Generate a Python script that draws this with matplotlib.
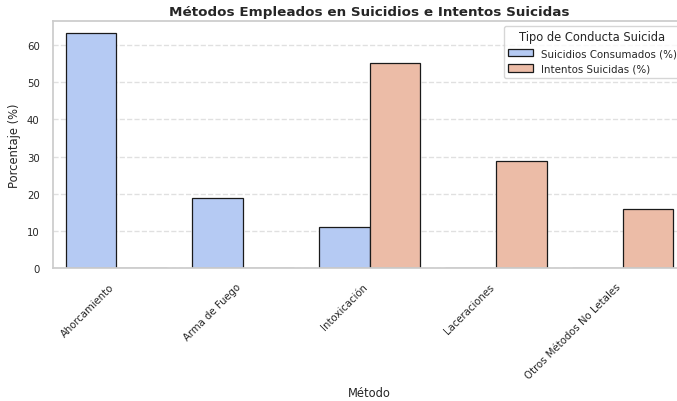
import matplotlib
matplotlib.use("Agg")
import matplotlib.pyplot as plt
import seaborn as sns
import pandas as pd

metodos = ["Ahorcamiento", "Arma de Fuego", "Intoxicación", "Laceraciones", "Otros Métodos No Letales"]
suicidios = [63.3, 18.8, 11.0, 0, 0]
intentos = [0, 0, 55.2, 28.8, 15.9]

df = pd.DataFrame({"Método": metodos,
                   "Suicidios Consumados (%)": suicidios,
                   "Intentos Suicidas (%)": intentos})
df_long = df.melt(id_vars="Método", var_name="Tipo de Conducta Suicida", value_name="Porcentaje (%)")

sns.set_theme(style="whitegrid")
plt.rcParams['font.family'] = ['DejaVu Sans']

fig = plt.figure(figsize=(6.77, 4.02), dpi=100)
# el eje se sale un poco por la derecha, como en la imagen original
ax = fig.add_axes([53/677, 1 - 269/402, (686 - 53)/677, (269 - 22)/402])
sns.barplot(data=df_long, x="Método", y="Porcentaje (%)", hue="Tipo de Conducta Suicida",
            palette="coolwarm", edgecolor="#1a1a1a", linewidth=0.9, ax=ax)

ax.set_title("Métodos Empleados en Suicidios e Intentos Suicidas", fontsize=9.7, fontweight="bold", pad=4)
ax.set_xlabel("Método", fontsize=8.3)
ax.set_ylabel("Porcentaje (%)", fontsize=8.3)
ax.tick_params(axis="both", labelsize=7.3)
plt.setp(ax.get_xticklabels(), rotation=45, ha="right")
ax.grid(axis="y", linestyle="--", alpha=0.6)
ax.grid(axis="x", visible=False)
leg = ax.legend(title="Tipo de Conducta Suicida", fontsize=7.4, title_fontsize=8.3, loc="upper right",
                handlelength=2.4)

fig.savefig("out.png", dpi=100)
